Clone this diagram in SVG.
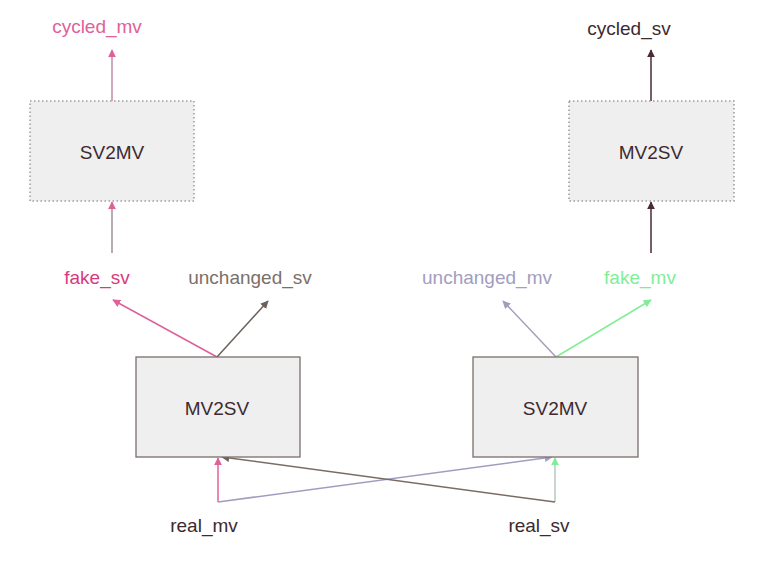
<svg xmlns="http://www.w3.org/2000/svg" width="770" height="563" viewBox="0 0 770 563">
<style>
text{font-family:"Liberation Sans",Arial,sans-serif;font-size:19px;text-anchor:middle}
.box{fill:#efefef;stroke:#7a6e6a;stroke-width:1.3}
.dot{fill:#efefef;stroke:#a09a9a;stroke-width:1.5;stroke-dasharray:1.5 2.5}
.e{fill:none;stroke-width:1.5}
.dark{fill:#3d2a30}
</style>
<defs>
<marker id="mp" viewBox="0 0 10 10" refX="9" refY="5" markerWidth="8" markerHeight="8" markerUnits="userSpaceOnUse" orient="auto"><path d="M0,0L10,5L0,10z" fill="#e0609a"/></marker>
<marker id="md" viewBox="0 0 10 10" refX="9" refY="5" markerWidth="8" markerHeight="8" markerUnits="userSpaceOnUse" orient="auto"><path d="M0,0L10,5L0,10z" fill="#4a2a35"/></marker>
<marker id="mb" viewBox="0 0 10 10" refX="9" refY="5" markerWidth="8" markerHeight="8" markerUnits="userSpaceOnUse" orient="auto"><path d="M0,0L10,5L0,10z" fill="#6e605a"/></marker>
<marker id="ml" viewBox="0 0 10 10" refX="9" refY="5" markerWidth="8" markerHeight="8" markerUnits="userSpaceOnUse" orient="auto"><path d="M0,0L10,5L0,10z" fill="#a29dc0"/></marker>
<marker id="mg" viewBox="0 0 10 10" refX="9" refY="5" markerWidth="8" markerHeight="8" markerUnits="userSpaceOnUse" orient="auto"><path d="M0,0L10,5L0,10z" fill="#80ee98"/></marker>
</defs>
<g id="connectors">
<path class="e" d="M112,101 L112,50" stroke="#c08aa8" marker-end="url(#mp)"/>
<path class="e" d="M112,253 L112,202" stroke="#a0909a" marker-end="url(#mp)"/>
<path class="e" d="M651,101 L651,50" stroke="#4a2a35" marker-end="url(#md)"/>
<path class="e" d="M651,253 L651,202" stroke="#4a2a35" marker-end="url(#md)"/>
<path class="e" d="M217,357 L113,300" stroke="#e0609a" marker-end="url(#mp)"/>
<path class="e" d="M217,357 L268,301" stroke="#6e605a" marker-end="url(#mb)"/>
<path class="e" d="M556,357 L503,301" stroke="#a29dc0" marker-end="url(#ml)"/>
<path class="e" d="M556,357 L651,300" stroke="#80ee98" marker-end="url(#mg)"/>
<path class="e" d="M218,502 L218,458" stroke="#e0609a" marker-end="url(#mp)"/>
<path class="e" d="M218,502 L552,457" stroke="#a29dc0" marker-end="url(#ml)"/>
<path class="e" d="M555,502 L555,458" stroke="#b8c8bc" marker-end="url(#mg)"/>
<path class="e" d="M555,502 L222,457" stroke="#7a6b65" marker-end="url(#mb)"/>
</g>
<g id="cycled_mv"><text x="97" y="33" fill="#e0609a">cycled_mv</text></g>
<g id="cycled_sv"><text x="629" y="35" class="dark">cycled_sv</text></g>
<g id="sv2mv_top"><rect class="dot" x="30" y="101" width="164" height="100"/><text x="112" y="159" class="dark">SV2MV</text></g>
<g id="mv2sv_top"><rect class="dot" x="569" y="101" width="165" height="100"/><text x="651" y="159" class="dark">MV2SV</text></g>
<g id="fake_sv"><text x="97" y="284" fill="#d83a80">fake_sv</text></g>
<g id="unchanged_sv"><text x="250" y="284" fill="#7a706a">unchanged_sv</text></g>
<g id="unchanged_mv"><text x="487" y="284" fill="#a29dc0">unchanged_mv</text></g>
<g id="fake_mv"><text x="640" y="284" fill="#80ee98">fake_mv</text></g>
<g id="mv2sv"><rect class="box" x="136" y="357" width="164" height="100"/><text x="217" y="415" class="dark">MV2SV</text></g>
<g id="sv2mv"><rect class="box" x="473" y="357" width="165" height="100"/><text x="555" y="415" class="dark">SV2MV</text></g>
<g id="real_mv"><text x="204" y="532" class="dark">real_mv</text></g>
<g id="real_sv"><text x="539" y="532" class="dark">real_sv</text></g>
</svg>
